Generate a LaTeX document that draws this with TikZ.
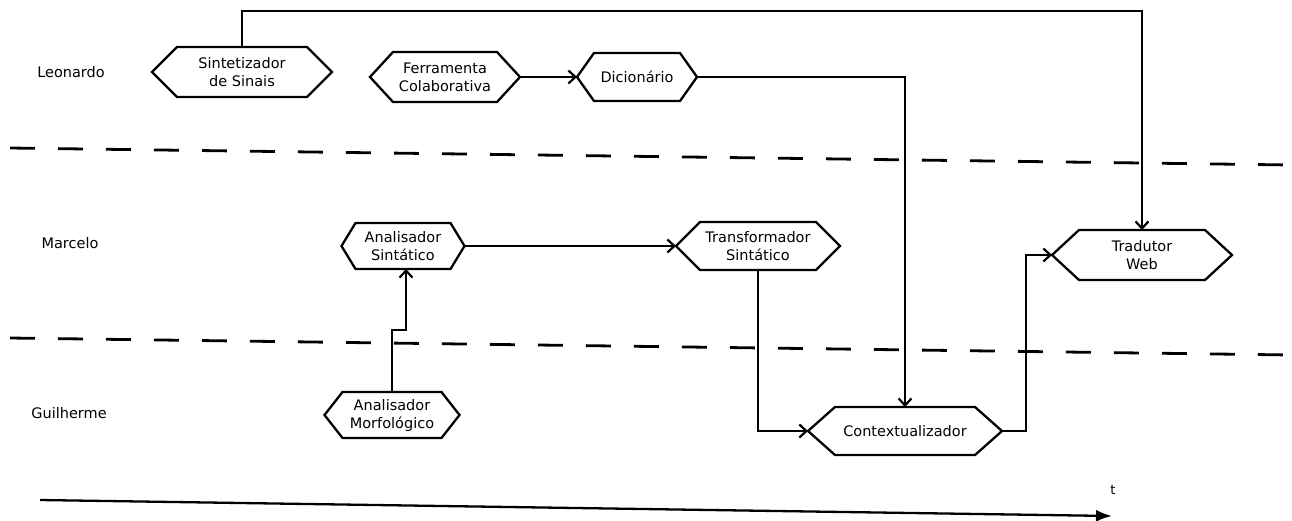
\documentclass[tikz,border=0pt]{standalone}
\usepackage{fontspec}
\setmainfont{DejaVu Sans}
\usetikzlibrary{arrows.meta,calc}
\newcommand\hexof[2]{%
  \draw[hexline] (#1.west) -- ([xshift=#2]#1.north west) -- ([xshift=-#2]#1.north east)
    -- (#1.east) -- ([xshift=-#2]#1.south east) -- ([xshift=#2]#1.south west) -- cycle;}
\begin{document}
\begin{tikzpicture}[x=1pt,y=-1pt,
  hexnode/.style={inner sep=0pt,outer sep=0pt,align=center,
    font=\fontsize{14.5}{18}\selectfont},
  hexline/.style={line width=2.3pt,line join=miter},
  lane/.style={font=\fontsize{14.5}{17}\selectfont},
  conn/.style={line width=2.2pt,-{Straight Barb[length=7pt,width=13pt,line width=2.2pt]}},
  sep/.style={line width=2.8pt,dash pattern=on 25pt off 23pt},
  axis/.style={line width=2.3pt,-{Latex[length=16pt,width=12pt]}}]
\useasboundingbox (0,0) rectangle (1292,520);

% lane labels
\node[lane] (leo) at (71,72) {Leonardo};
\node[lane] (mar) at (70,243) {Marcelo};
\node[lane] (gui) at (69,413) {Guilherme};

% separators
\coordinate (s1a) at (10,148); \coordinate (s1b) at (1292,165);
\coordinate (s2a) at (10,338); \coordinate (s2b) at (1292,355);
\draw[sep] (s1a) -- (s1b);
\draw[sep] (s2a) -- (s2b);

% nodes
\node[hexnode,minimum width=180,minimum height=50] (sint) at (242,72) {Sintetizador\\de Sinais};
\node[hexnode,minimum width=150,minimum height=50] (ferr) at (445,77) {Ferramenta\\Colaborativa};
\node[hexnode,minimum width=120,minimum height=48] (dic) at (637,77) {Dicionário};
\node[hexnode,minimum width=123,minimum height=46] (asin) at (403,246) {Analisador\\Sintático};
\node[hexnode,minimum width=164,minimum height=48] (trans) at (758,246) {Transformador\\Sintático};
\node[hexnode,minimum width=180,minimum height=50] (trad) at (1142,255) {Tradutor\\Web};
\node[hexnode,minimum width=194,minimum height=48] (ctx) at (905,431) {Contextualizador};
\node[hexnode,minimum width=135,minimum height=46] (amor) at (392,415) {Analisador\\Morfológico};

\hexof{sint}{25}
\hexof{ferr}{23}
\hexof{dic}{17}
\hexof{asin}{14}
\hexof{trans}{24}
\hexof{trad}{27}
\hexof{ctx}{27}
\hexof{amor}{18}

% connectors
\coordinate (top) at (600,11);
\draw[conn] (sint.north) |- (top) -| (trad.north);
\draw[conn] (ferr.east) -- (dic.west);
\draw[conn] (dic.east) -| (ctx.north);
\draw[conn] (asin.east) -- (trans.west);
\coordinate (j1) at (391,330);
\coordinate (j2) at (406,330);
\draw[conn] (amor.north) -- (amor.north |- j1) -- (j2) -- (j2 |- asin.south);
\draw[conn] (trans.south) |- (ctx.west);
\coordinate (k) at (1026,0);
\draw[conn] (ctx.east) -- (ctx.east -| k) -- (k |- trad.west) -- (trad.west);

% time axis
\coordinate (ta) at (40,500);
\coordinate (tb) at (1112,516);
\draw[axis] (ta) -- (tb);
\node[font=\fontsize{13}{15}\selectfont] (t) at (1113,490) {t};
\end{tikzpicture}
\end{document}
